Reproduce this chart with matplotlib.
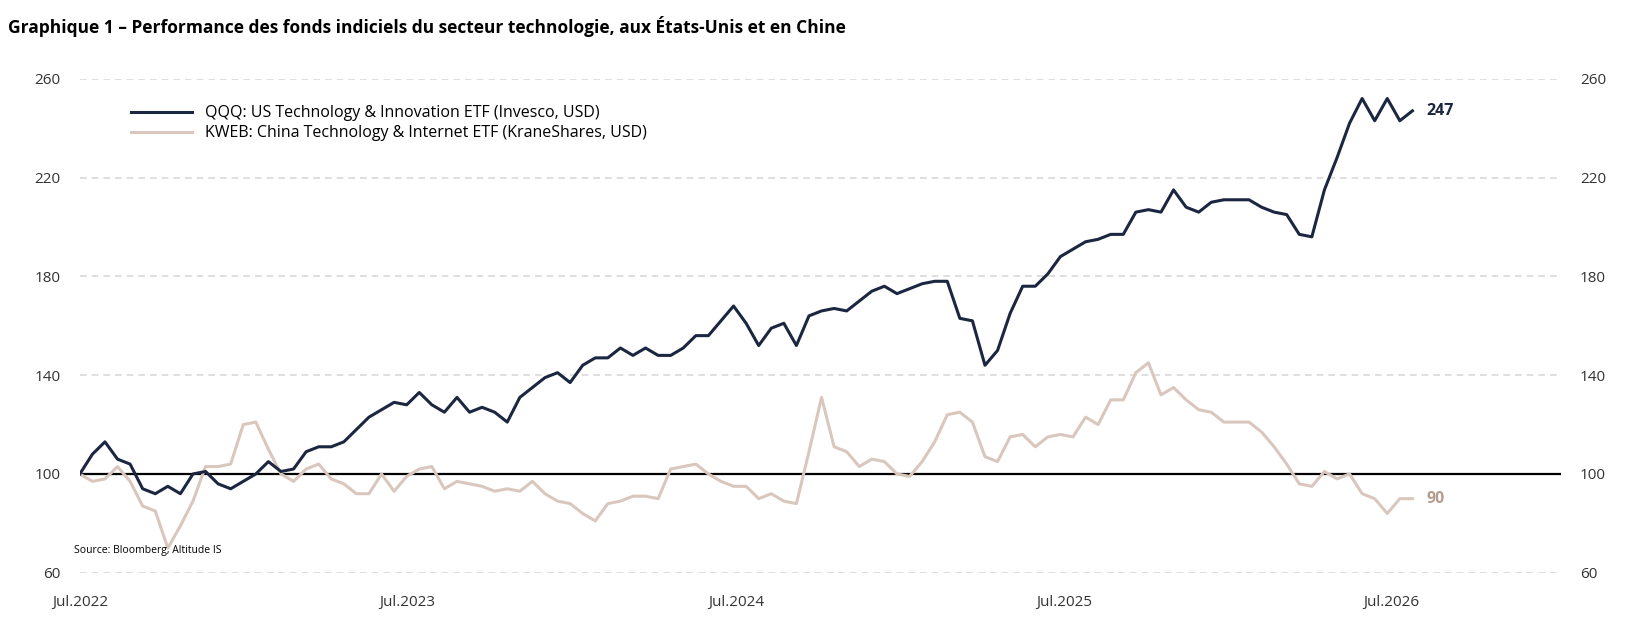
import matplotlib
matplotlib.use("Agg")
import matplotlib.pyplot as plt
import pandas as pd

qqq = [100,108,113,106,104,94,92,95,92,100,101,96,94,97,100,105,101,102,109,111,
       111,113,118,123,126,129,128,133,128,125,131,125,127,125,121,131,135,139,141,137,
       144,147,147,151,148,151,148,148,151,156,156,162,168,161,152,159,161,152,164,166,
       167,166,170,174,176,173,175,177,178,178,163,162,144,150,165,176,176,181,188,191,
       194,195,197,197,206,207,206,215,208,206,210,211,211,211,208,206,205,197,196,215,
       228,242,252,243,252,243,247]
kweb = [100,97,98,103,97,87,85,70,79,89,103,103,104,120,121,110,100,97,102,104,
        98,96,92,92,100,93,99,102,103,94,97,96,95,93,94,93,97,92,89,88,
        84,81,88,89,91,91,90,102,103,104,100,97,95,95,90,92,89,88,109,131,
        111,109,103,106,105,100,99,105,113,124,125,121,107,105,115,116,111,115,116,115,
        123,120,130,130,141,145,132,135,130,126,125,121,121,121,117,111,104,96,95,101,
        98,100,92,90,84,90,90]
dates = pd.date_range("2022-07-01", periods=len(qqq), freq="14D")
tick_dates = pd.to_datetime(["2022-07-01", "2023-07-01", "2024-07-01", "2025-07-01", "2026-07-01"])
tick_labels = ["Jul.2022", "Jul.2023", "Jul.2024", "Jul.2025", "Jul.2026"]
yticks = [60, 100, 140, 180, 220, 260]

plt.rcParams['font.family'] = ['Open Sans', 'DejaVu Sans']
c_q = "#1b2640"
c_k = "#d9c7bd"

fig = plt.figure(figsize=(16.29, 6.35), dpi=100)
ax = fig.add_axes([0.049, 0.098, 0.909, 0.778])
for y in yticks:
    if y != 100:
        ax.axhline(y, color="#d9d9d9", lw=1.2, ls=(0, (4, 3)), zorder=0)
ax.axhline(100, color="black", lw=1.6, zorder=1)
ax.plot(dates, kweb, color=c_k, lw=2.2, label="KWEB: China Technology & Internet ETF (KraneShares, USD)", zorder=2)
ax.plot(dates, qqq, color=c_q, lw=2.2, label="QQQ: US Technology & Innovation ETF (Invesco, USD)", zorder=3)
ax.set_ylim(60, 260)
ax.set_xlim(pd.Timestamp("2022-07-01"), pd.Timestamp("2027-01-05"))
ax.set_yticks(yticks)
ax.set_xticks(tick_dates)
ax.set_xticklabels(tick_labels)
ax.tick_params(length=0, labelsize=11, colors="#333333", pad=14)
ax.tick_params(axis='x', pad=16)
for s in ax.spines.values():
    s.set_visible(False)
ax2 = ax.twinx()
ax2.set_ylim(60, 260)
ax2.set_yticks(yticks)
ax2.tick_params(length=0, labelsize=11, colors="#333333", pad=14)
for s in ax2.spines.values():
    s.set_visible(False)

h, l = ax.get_legend_handles_labels()
ax.legend(h[::-1], l[::-1], loc="upper left", bbox_to_anchor=(0.025, 0.975), frameon=False,
          fontsize=11.5, handlelength=3.8, labelspacing=0.25)
ax.annotate(f"{qqq[-1]}", (dates[-1], qqq[-1]), xytext=(10, 0), textcoords="offset points",
            va="center", fontsize=11.5, fontweight="bold", color=c_q)
ax.annotate(f"{kweb[-1]}", (dates[-1], kweb[-1]), xytext=(10, 0), textcoords="offset points",
            va="center", fontsize=11.5, fontweight="bold", color="#b59c8c")
ax.text(-0.004, 0.04, "Source: Bloomberg, Altitude IS", transform=ax.transAxes, fontsize=7.5, color="black")
fig.text(0.005, 0.975, "Graphique 1 – Performance des fonds indiciels du secteur technologie, aux États-Unis et en Chine",
         fontsize=12.5, fontweight="bold", va="top")
fig.savefig("out.png", dpi=100)
